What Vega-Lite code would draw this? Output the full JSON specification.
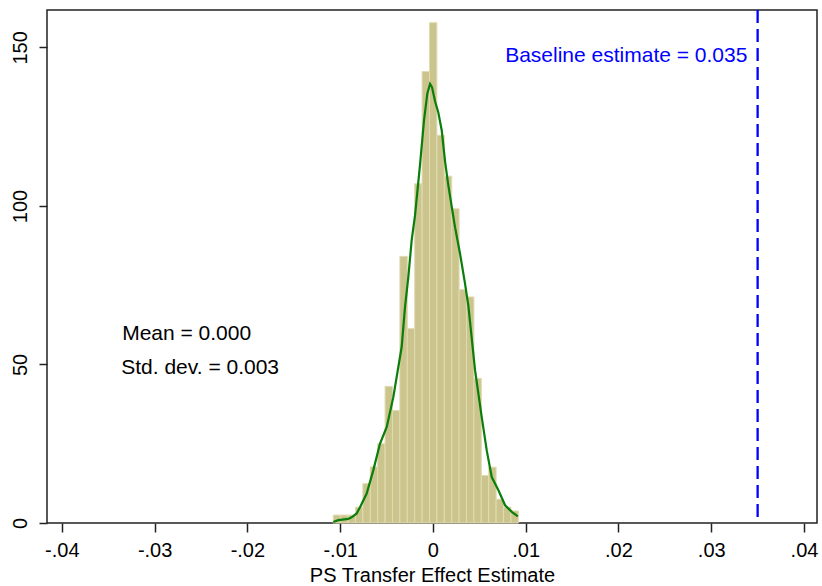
{
  "$schema": "https://vega.github.io/schema/vega-lite/v6.json",
  "width": 770,
  "height": 513,
  "autosize": "none",
  "padding": {"left": 47, "top": 10, "right": 5, "bottom": 63},
  "background": "white",
  "config": {
    "font": "Liberation Sans",
    "view": {"stroke": "#222222", "strokeWidth": 1.5},
    "axis": {"grid": false, "domain": false, "tickColor": "#222222", "tickWidth": 1.5, "labelColor": "#000000", "titleColor": "#000000", "labelFont": "Liberation Sans", "titleFont": "Liberation Sans"}
  },
  "datasets": {
    "bars": [
      {"lo": -0.010744, "hi": -0.009946, "density": 2.5},
      {"lo": -0.009946, "hi": -0.009148, "density": 2.5},
      {"lo": -0.009148, "hi": -0.008350, "density": 2.5},
      {"lo": -0.008350, "hi": -0.007552, "density": 5.0},
      {"lo": -0.007552, "hi": -0.006754, "density": 12.4},
      {"lo": -0.006754, "hi": -0.005956, "density": 17.7},
      {"lo": -0.005956, "hi": -0.005158, "density": 25.0},
      {"lo": -0.005158, "hi": -0.004360, "density": 43.1},
      {"lo": -0.004360, "hi": -0.003562, "density": 35.5},
      {"lo": -0.003562, "hi": -0.002764, "density": 84.1},
      {"lo": -0.002764, "hi": -0.001966, "density": 61.3},
      {"lo": -0.001966, "hi": -0.001168, "density": 107.0},
      {"lo": -0.001168, "hi": -0.000370, "density": 142.4},
      {"lo": -0.000370, "hi": 0.000428, "density": 157.8},
      {"lo": 0.000428, "hi": 0.001226, "density": 122.3},
      {"lo": 0.001226, "hi": 0.002024, "density": 109.4},
      {"lo": 0.002024, "hi": 0.002822, "density": 99.1},
      {"lo": 0.002822, "hi": 0.003620, "density": 73.6},
      {"lo": 0.003620, "hi": 0.004418, "density": 71.3},
      {"lo": 0.004418, "hi": 0.005216, "density": 45.6},
      {"lo": 0.005216, "hi": 0.006014, "density": 15.0},
      {"lo": 0.006014, "hi": 0.006812, "density": 17.6},
      {"lo": 0.006812, "hi": 0.007610, "density": 7.5},
      {"lo": 0.007610, "hi": 0.008408, "density": 5.0},
      {"lo": 0.008408, "hi": 0.009206, "density": 3.8}
    ],
    "kde": [
      {"x": -0.01074, "y": 0.3},
      {"x": -0.01020, "y": 0.9},
      {"x": -0.00913, "y": 1.3},
      {"x": -0.00876, "y": 1.8},
      {"x": -0.00822, "y": 3.0},
      {"x": -0.00786, "y": 5.0},
      {"x": -0.00714, "y": 9.3},
      {"x": -0.00643, "y": 16.6},
      {"x": -0.00571, "y": 25.0},
      {"x": -0.00498, "y": 30.3},
      {"x": -0.00427, "y": 39.7},
      {"x": -0.00373, "y": 49.2},
      {"x": -0.00337, "y": 55.5},
      {"x": -0.00301, "y": 68.1},
      {"x": -0.00265, "y": 77.6},
      {"x": -0.00229, "y": 89.2},
      {"x": -0.00193, "y": 97.0},
      {"x": -0.00139, "y": 113.0},
      {"x": -0.00096, "y": 127.0},
      {"x": -0.00060, "y": 135.5},
      {"x": -0.00031, "y": 138.5},
      {"x": -0.00010, "y": 137.5},
      {"x": 0.00023, "y": 133.0},
      {"x": 0.00058, "y": 129.5},
      {"x": 0.00095, "y": 123.8},
      {"x": 0.00131, "y": 114.0},
      {"x": 0.00166, "y": 106.5},
      {"x": 0.00238, "y": 93.3},
      {"x": 0.00292, "y": 85.0},
      {"x": 0.00346, "y": 75.5},
      {"x": 0.00382, "y": 68.5},
      {"x": 0.00454, "y": 48.2},
      {"x": 0.00526, "y": 33.4},
      {"x": 0.00580, "y": 22.9},
      {"x": 0.00634, "y": 14.5},
      {"x": 0.00706, "y": 10.3},
      {"x": 0.00778, "y": 5.6},
      {"x": 0.00850, "y": 3.5},
      {"x": 0.00915, "y": 2.1}
    ],
    "baseline": [{"x": 0.035}],
    "stats": [
      {"x": -0.0335, "y": 59.5, "label": "Mean = 0.000"},
      {"x": -0.0336, "y": 48.8, "label": "Std. dev. = 0.003"}
    ],
    "baselineLabel": [{"x": 0.0339, "y": 147.2, "label": "Baseline estimate = 0.035"}]
  },
  "layer": [
    {
      "data": {"name": "bars"},
      "mark": {"type": "rect", "fill": "#cbc48d", "stroke": "#e0dbb2", "strokeWidth": 1},
      "encoding": {
        "x": {"field": "lo", "type": "quantitative",
          "scale": {"domain": [-0.0416, 0.0414], "nice": false, "zero": false},
          "axis": {"values": [-0.04, -0.03, -0.02, -0.01, 0, 0.01, 0.02, 0.03, 0.04],
            "labelExpr": "datum.value == 0 ? '0' : (datum.value < 0 ? '-' : '') + replace(format(abs(datum.value), '.2f'), '0.', '.')",
            "labelFontSize": 20, "tickSize": 9, "labelPadding": 8,
            "title": "PS Transfer Effect Estimate", "titleFontSize": 20, "titleFontWeight": "normal", "titlePadding": 5}},
        "x2": {"field": "hi"},
        "y": {"field": "density", "type": "quantitative",
          "scale": {"domain": [0, 161.8], "nice": false},
          "axis": {"values": [0, 50, 100, 150], "labelAngle": -90, "labelFontSize": 20, "tickSize": 8, "labelPadding": 9, "title": null}},
        "y2": {"datum": 0}
      }
    },
    {
      "data": {"name": "kde"},
      "mark": {"type": "line", "color": "#0a7d0a", "strokeWidth": 2.2, "interpolate": "linear"},
      "encoding": {
        "x": {"field": "x", "type": "quantitative"},
        "y": {"field": "y", "type": "quantitative"}
      }
    },
    {
      "data": {"name": "baseline"},
      "mark": {"type": "rule", "color": "#0000ff", "strokeWidth": 2.3, "strokeDash": [13, 6]},
      "encoding": {
        "x": {"field": "x", "type": "quantitative"}
      }
    },
    {
      "data": {"name": "stats"},
      "mark": {"type": "text", "align": "left", "baseline": "middle", "fontSize": 21, "color": "#000000"},
      "encoding": {
        "x": {"field": "x", "type": "quantitative"},
        "y": {"field": "y", "type": "quantitative"},
        "text": {"field": "label"}
      }
    },
    {
      "data": {"name": "baselineLabel"},
      "mark": {"type": "text", "align": "right", "baseline": "middle", "fontSize": 21, "color": "#0000ff"},
      "encoding": {
        "x": {"field": "x", "type": "quantitative"},
        "y": {"field": "y", "type": "quantitative"},
        "text": {"field": "label"}
      }
    }
  ]
}
